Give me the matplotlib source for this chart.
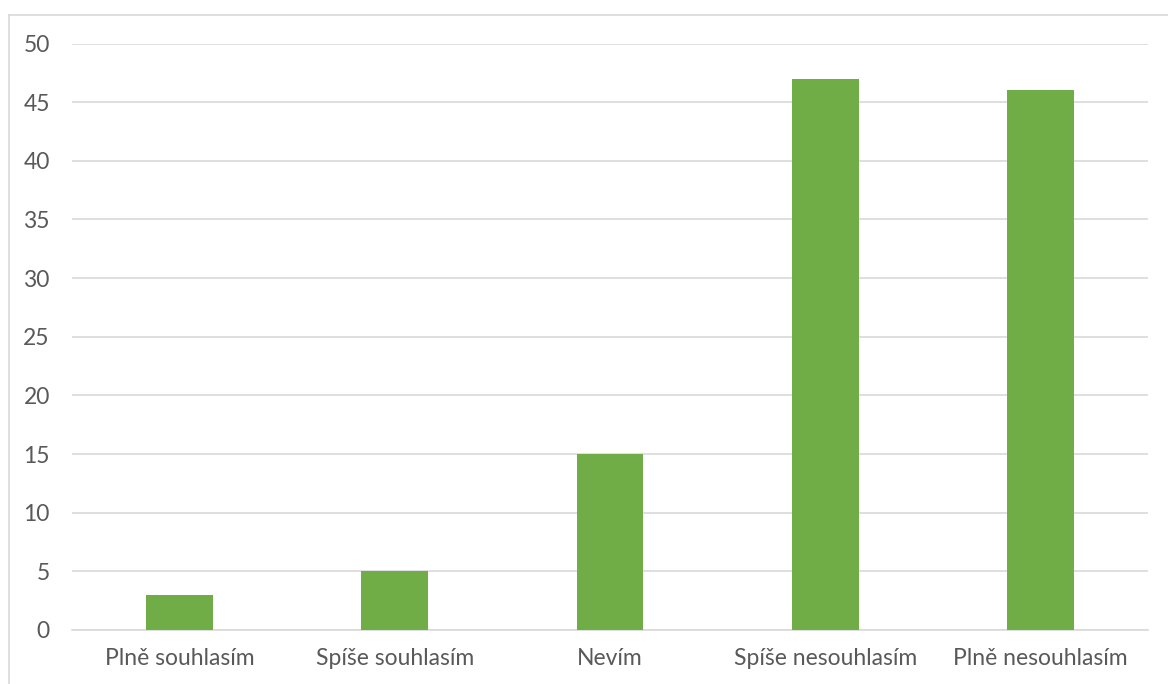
import matplotlib.pyplot as plt
from matplotlib.lines import Line2D

# odpovědi a počty respondentů
categories = ["Plně souhlasím", "Spíše souhlasím", "Nevím", "Spíše nesouhlasím", "Plně nesouhlasím"]
counts = [3, 5, 15, 47, 46]
y_ticks = [0, 5, 10, 15, 20, 25, 30, 35, 40, 45, 50]

plt.rcParams['font.family'] = ['Lato', 'DejaVu Sans']

fig = plt.figure(figsize=(11.68, 6.84), dpi=100)
W, H = 1168, 684
ax = fig.add_axes([72 / W, 1 - 630 / H, (1148 - 72) / W, (630 - 43.5) / H])

x = range(len(categories))
ax.bar(x, counts, width=0.31, color='#70ad47', zorder=3)

ax.set_xlim(-0.5, len(categories) - 0.5)
ax.set_ylim(0, 50)
ax.set_yticks(y_ticks)
ax.set_xticks(list(x))
ax.set_xticklabels(categories)
ax.yaxis.grid(True, color='#d9d9d9', linewidth=1.2, zorder=0)
for s in ax.spines.values():
    s.set_visible(False)
ax.spines['bottom'].set_visible(True)
ax.spines['bottom'].set_color('#d9d9d9')
ax.spines['bottom'].set_linewidth(1.2)
ax.tick_params(axis='both', length=0, labelsize=16.5, colors='#595959')
ax.tick_params(axis='y', pad=16)
ax.tick_params(axis='x', pad=13)

# rámeček grafu
fig.add_artist(Line2D([8.5 / W, 1.0], [1 - 14.5 / H, 1 - 14.5 / H], color='#d9d9d9', linewidth=1.2))
fig.add_artist(Line2D([8.5 / W, 8.5 / W], [0.0, 1 - 14.5 / H], color='#d9d9d9', linewidth=1.2))

fig.savefig('out.png', dpi=100)
